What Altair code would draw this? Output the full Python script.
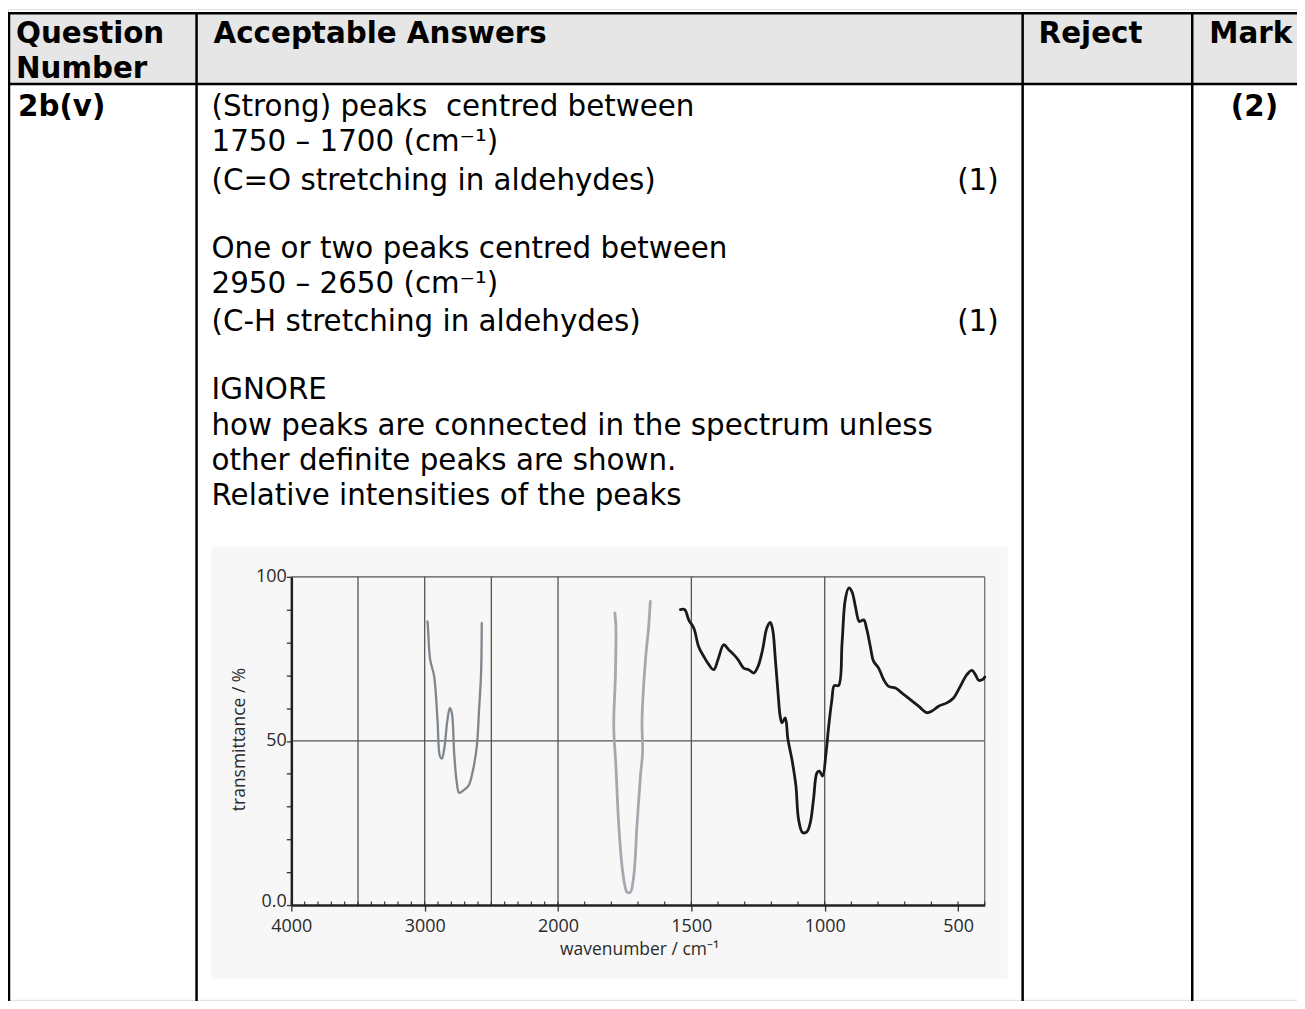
import altair as alt
import pandas as pd

# ---------------- data ----------------
header_labels = ["Question", "Number", "Acceptable Answers", "Reject", "Mark"]
question_number = "2b(v)"
mark_total = "(2)"
answer_lines = [
    "(Strong) peaks \u00a0centred between",
    "1750 \u2013 1700 (cm\u207b\u00b9)",
    "(C=O stretching in aldehydes)",
    "",
    "One or two peaks centred between",
    "2950 \u2013 2650 (cm\u207b\u00b9)",
    "(C-H stretching in aldehydes)",
    "",
    "IGNORE",
    "how peaks are connected in the spectrum unless",
    "other definite peaks are shown.",
    "Relative intensities of the peaks",
]
line_marks = ["", "", "(1)", "", "", "", "(1)", "", "", "", "", ""]

# C-H stretch sketch (wavenumber / cm-1, transmittance / %)
ch_wn = [2979, 2976, 2959, 2929, 2904, 2886, 2871, 2854, 2829, 2811, 2796, 2779,
         2762, 2742, 2717, 2672, 2642, 2609, 2592, 2577, 2572]
ch_t = [86.4, 85.0, 74.8, 69.7, 56.5, 45.4, 44.6, 47.4, 56.5, 60.1, 58.5, 46.4,
        38.3, 34.2, 34.7, 36.3, 40.3, 48.4, 59.6, 70.7, 85.9]

# C=O stretch sketch
co_wn = [1787, 1783, 1785, 1791, 1783, 1772, 1757, 1741, 1729, 1716, 1704, 1691,
         1683, 1685, 1672, 1660, 1654]
co_t = [89.0, 84.9, 69.7, 54.5, 42.3, 24.1, 9.9, 3.9, 3.9, 8.9, 24.1, 39.3,
        46.4, 56.5, 74.8, 84.9, 92.5]

# fingerprint region (printed spectrum)
fp_wn = [1541, 1525, 1510, 1491, 1473, 1454, 1435, 1416, 1400, 1379, 1360, 1341,
         1325, 1304, 1285, 1266, 1250, 1233, 1217, 1204, 1195, 1185, 1175, 1167,
         1160, 1148, 1138, 1123, 1108, 1098, 1083, 1067, 1054, 1042, 1029, 1020,
         1008, 995, 985, 973, 964, 948, 935, 923, 910, 898, 885, 870, 854, 842,
         829, 817, 798, 779, 760, 735, 710, 679, 648, 617, 598, 573, 542, 517,
         492, 467, 448, 433, 423, 408, 400]
fp_t = [90.0, 90.0, 86.9, 84.4, 78.8, 75.8, 73.3, 71.7, 74.8, 79.3, 77.8, 76.3,
        74.8, 72.2, 71.7, 70.7, 72.7, 77.8, 84.4, 86.1, 83.9, 74.8, 64.6, 57.5,
        55.5, 57.0, 50.5, 44.4, 36.3, 26.1, 22.1, 22.3, 25.1, 32.2, 40.3, 40.8,
        39.3, 46.4, 54.5, 62.6, 66.9, 66.9, 79.8, 93.0, 96.6, 95.5, 91.0, 86.4,
        86.9, 83.9, 78.8, 74.3, 72.2, 68.7, 66.6, 66.1, 64.6, 62.6, 60.6, 58.6,
        59.1, 60.6, 61.6, 63.1, 66.6, 70.2, 71.5, 69.9, 68.5, 68.7, 69.5]

x_label_values = [4000, 3000, 2000, 1500, 1000, 500]
x_minor_ticks = list(range(400, 4001, 100))
y_tick_values = [0, 10, 20, 30, 40, 50, 60, 70, 80, 90, 100]
x_grid = [3500, 3000, 2500, 2000, 1500, 1000]
x_title = "wavenumber / cm\u207b\u00b9"
y_title = "transmittance / %"

# ---------------- layout helpers ----------------
OX, OY = 8, 8
W, H = 1292, 993
FONT = "DejaVu Sans"
FS = 29.4


def PX(v):
    return v - OX


def PY(v):
    return v - OY


xscale = alt.Scale(domain=[4000, 2000, 400], range=[PX(292), PX(559.3), PX(987)],
                   nice=False, zero=False)
yscale = alt.Scale(domain=[0, 100], range=[PY(906), PY(577)], nice=False, zero=False)

xaxis = alt.Axis(
    orient="bottom", offset=-(H - PY(906)), values=x_label_values, title=None, format="d",
    labelFont="Open Sans", labelFontSize=18, labelColor="#2a2a2a", labelPadding=6,
    tickSize=6, tickColor="#333", tickWidth=1.3, domainColor="#222", domainWidth=2.5,
    grid=False, labelFlush=False, labelOverlap=False, zindex=2)
yaxis = alt.Axis(
    orient="left", offset=-PX(292), values=y_tick_values, title=None,
    labelExpr="datum.value == 0 ? '0.0' : ((datum.value == 50 || datum.value == 100) ? datum.label : '')",
    labelFont="Open Sans", labelFontSize=18, labelColor="#2a2a2a", labelPadding=0,
    labelOffset={"condition": {"test": "datum.value == 0", "value": -4}, "value": 0},
    tickSize=5, tickColor="#333", tickWidth=1.3, domainColor="#222", domainWidth=2.5,
    grid=False, labelFlush=False, labelOverlap=False, zindex=2)


def XE(field, **kw):
    return alt.X(field, scale=xscale, axis=xaxis, **kw)


def YE(field, **kw):
    return alt.Y(field, scale=yscale, axis=yaxis, **kw)


layers = []
one = pd.DataFrame({"a": [0]})

# header background
layers.append(alt.Chart(one).mark_rect(color="#e6e6e6").encode(
    x=alt.value(PX(8)), x2=alt.value(PX(1300)), y=alt.value(PY(12)), y2=alt.value(PY(83))))

# scanned picture background
layers.append(alt.Chart(one).mark_rect(color="#f7f7f7").encode(
    x=alt.value(PX(212)), x2=alt.value(PX(1010)), y=alt.value(PY(547)), y2=alt.value(PY(980))))

# table lines
for yy in [12, 83]:
    layers.append(alt.Chart(one).mark_rule(color="#000", strokeWidth=2.5).encode(
        x=alt.value(PX(8)), x2=alt.value(PX(1300)), y=alt.value(PY(yy))))
for xx in [9, 197, 1025, 1195]:
    layers.append(alt.Chart(one).mark_rule(color="#000", strokeWidth=2.5).encode(
        x=alt.value(PX(xx)), y=alt.value(PY(11)), y2=alt.value(PY(1012))))


def txt(s, x, y, bold=False, align="left", size=FS, font=FONT, color="#000", angle=0):
    kw = dict(align=align, baseline="alphabetic", font=font, fontSize=size,
              fontWeight="bold" if bold else "normal", color=color)
    if angle:
        kw["angle"] = angle
        kw["baseline"] = "middle"
    return alt.Chart(pd.DataFrame({"t": [s]})).mark_text(**kw).encode(
        x=alt.value(PX(x)), y=alt.value(PY(y)), text="t:N")


# header texts
layers.append(txt(header_labels[0], 16, 42, bold=True))
layers.append(txt(header_labels[1], 16, 77, bold=True))
layers.append(txt(header_labels[2], 214, 42, bold=True))
layers.append(txt(header_labels[3], 1041, 42, bold=True))
layers.append(txt(header_labels[4], 1212, 42, bold=True))

# body texts
layers.append(txt(question_number, 18, 115, bold=True))
layers.append(txt(mark_total, 1281, 115, bold=True, align="right"))
for i, s in enumerate(answer_lines):
    yb = 115 + i * 35.5
    if i in (2, 6):
        yb += 3
    if s:
        layers.append(txt(s, 212, yb))
    if line_marks[i]:
        layers.append(txt(line_marks[i], 1001, yb, align="right"))

# ---------------- spectrum ----------------
grid_df = pd.DataFrame({"wn": x_grid, "lo": [0] * len(x_grid), "hi": [100] * len(x_grid)})
layers.append(alt.Chart(grid_df).mark_rule(color="#555", strokeWidth=1.3).encode(
    x=XE("wn:Q"), y=YE("lo:Q"), y2="hi:Q"))

hgrid_df = pd.DataFrame({"t": [50, 100], "a": [4000, 4000], "b": [400, 400]})
layers.append(alt.Chart(hgrid_df).mark_rule(color="#555", strokeWidth=1.3).encode(
    x=XE("a:Q"), x2="b:Q", y=YE("t:Q")))

rb_df = pd.DataFrame({"wn": [400], "lo": [0], "hi": [100]})
layers.append(alt.Chart(rb_df).mark_rule(color="#666", strokeWidth=1.2).encode(
    x=XE("wn:Q"), y=YE("lo:Q"), y2="hi:Q"))

minor_df = pd.DataFrame({"wn": x_minor_ticks, "lo": [0] * len(x_minor_ticks), "hi": [1.1] * len(x_minor_ticks)})
layers.append(alt.Chart(minor_df).mark_rule(color="#333", strokeWidth=1.2).encode(
    x=XE("wn:Q"), y=YE("lo:Q"), y2="hi:Q"))


def curve(wn, t, color, width):
    df = pd.DataFrame({"wn": wn, "t": t, "i": list(range(len(wn)))})
    return alt.Chart(df).mark_line(color=color, strokeWidth=width, strokeJoin="round",
                                   strokeCap="round", interpolate="catmull-rom").encode(
        x=XE("wn:Q"), y=YE("t:Q"), order="i:Q")


layers.append(curve(ch_wn, ch_t, "#80868e", 2.3))
layers.append(curve(co_wn, co_t, "#a4a9af", 2.8))
layers.append(curve(fp_wn, fp_t, "#1a1a1a", 2.8))

# axis titles
layers.append(txt(x_title, 641, 956, align="center", size=17.5, font="Open Sans", color="#2a2a2a"))
layers.append(txt(y_title, 241, 740, align="center", size=17.5, font="Open Sans", color="#2a2a2a", angle=270))

chart = alt.layer(*layers).properties(
    width=W, height=H, padding=0,
    autosize=alt.AutoSizeParams(type="none")
).configure_view(stroke=None).configure(background="white")

chart.save("out.html", embed_options={"renderer": "svg", "actions": False})
